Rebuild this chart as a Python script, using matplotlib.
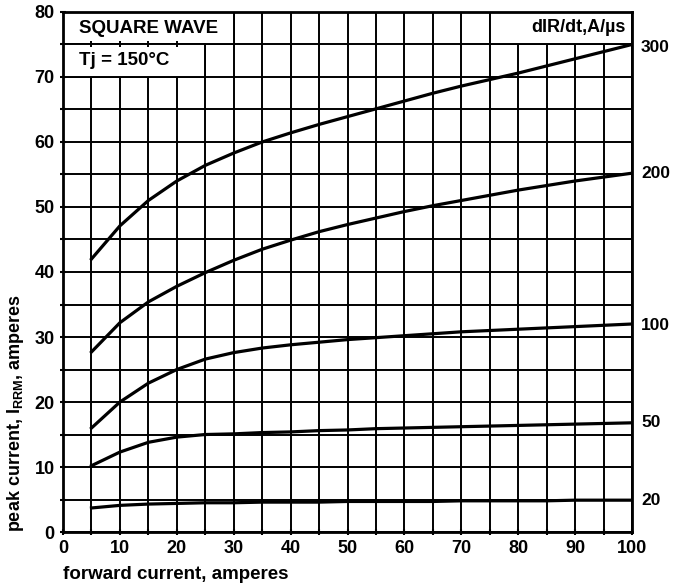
import numpy as np
import matplotlib.pyplot as plt
from matplotlib.patches import Rectangle

plt.rcParams['font.family'] = ['Liberation Sans', 'DejaVu Sans']
plt.rcParams['mathtext.default'] = 'regular'

# forward current, A
x = [5, 10, 15, 20, 25, 30, 35, 40, 45, 50, 55, 60, 65, 70, 75, 80, 85, 90, 95, 100]

# peak reverse recovery current for each dIR/dt
i_300 = [42.0, 47.1, 51.0, 54.0, 56.4, 58.3, 60.0, 61.4, 62.7, 63.9, 65.1, 66.3, 67.5, 68.6, 69.6, 70.6, 71.7, 72.8, 73.9, 75.0]
i_200 = [27.7, 32.2, 35.4, 37.8, 39.9, 41.8, 43.5, 44.9, 46.2, 47.3, 48.3, 49.3, 50.2, 51.0, 51.8, 52.6, 53.3, 54.0, 54.6, 55.2]
i_100 = [16.0, 20.0, 22.9, 25.0, 26.6, 27.6, 28.3, 28.8, 29.2, 29.6, 29.9, 30.2, 30.5, 30.8, 31.0, 31.2, 31.4, 31.6, 31.8, 32.0]
i_50 = [10.2, 12.3, 13.8, 14.6, 15.0, 15.1, 15.3, 15.4, 15.6, 15.7, 15.9, 16.0, 16.1, 16.2, 16.3, 16.4, 16.5, 16.6, 16.7, 16.8]
i_20 = [3.7, 4.1, 4.3, 4.4, 4.5, 4.5, 4.6, 4.6, 4.6, 4.7, 4.7, 4.7, 4.7, 4.8, 4.8, 4.8, 4.8, 4.9, 4.9, 4.9]

curves = [i_300, i_200, i_100, i_50, i_20]
rates = ['300', '200', '100', '50', '20']
label_y = [74.6, 55.2, 31.7, 16.8, 4.9]

fig = plt.figure(figsize=(6.74, 5.84), dpi=100)
ax = fig.add_axes([0.0935, 0.089, 0.8442, 0.8905])

ax.set_xlim(0, 100)
ax.set_ylim(0, 80)
ax.set_xticks(np.arange(0, 101, 10))
ax.set_yticks(np.arange(0, 81, 10))
ax.set_xticks(np.arange(0, 101, 5), minor=True)
ax.set_yticks(np.arange(0, 81, 5), minor=True)
ax.tick_params(which='both', direction='inout', length=4, width=1.5, color='black')
ax.tick_params(which='major', labelsize=13, pad=4)
for lab in ax.get_xticklabels() + ax.get_yticklabels():
    lab.set_fontweight('bold')

ax.set_axisbelow(True)
ax.grid(which='both', color='black', linewidth=1.4)
for s in ax.spines.values():
    s.set_linewidth(2)

# header boxes
ax.add_patch(Rectangle((0, 75), 30, 5, facecolor='white', edgecolor='black', lw=1.4, zorder=1))
ax.add_patch(Rectangle((0, 70), 25, 5, facecolor='white', edgecolor='black', lw=1.4, zorder=1))
ax.add_patch(Rectangle((75, 75), 25, 5, facecolor='white', edgecolor='black', lw=1.4, zorder=1))
ax.plot([5, 10, 15, 20], [75] * 4, '|', color='black', ms=5, mew=1.4, zorder=1.5)

ax.text(2.8, 77.5, 'SQUARE WAVE', fontsize=13.5, fontweight='bold', va='center', ha='left', zorder=3)
ax.text(2.8, 72.5, 'Tj = 150°C', fontsize=13.5, fontweight='bold', va='center', ha='left', zorder=3)
ax.text(98.8, 77.6, 'dIR/dt,A/µs', fontsize=13, fontweight='bold', va='center', ha='right', zorder=3)

for yv, r, ly in zip(curves, rates, label_y):
    ax.plot(x, yv, color='black', lw=2.3, zorder=2)
    ax.text(101.6, ly, r, fontsize=12.5, fontweight='bold', va='center', ha='left', clip_on=False)

ax.set_xlabel('forward current, amperes', fontsize=13.5, fontweight='bold', loc='left', labelpad=6)
ax.set_ylabel('peak current, I$_{RRM}$, amperes', fontsize=13, fontweight='bold', loc='bottom', labelpad=6)

fig.savefig('out.png', dpi=100)
